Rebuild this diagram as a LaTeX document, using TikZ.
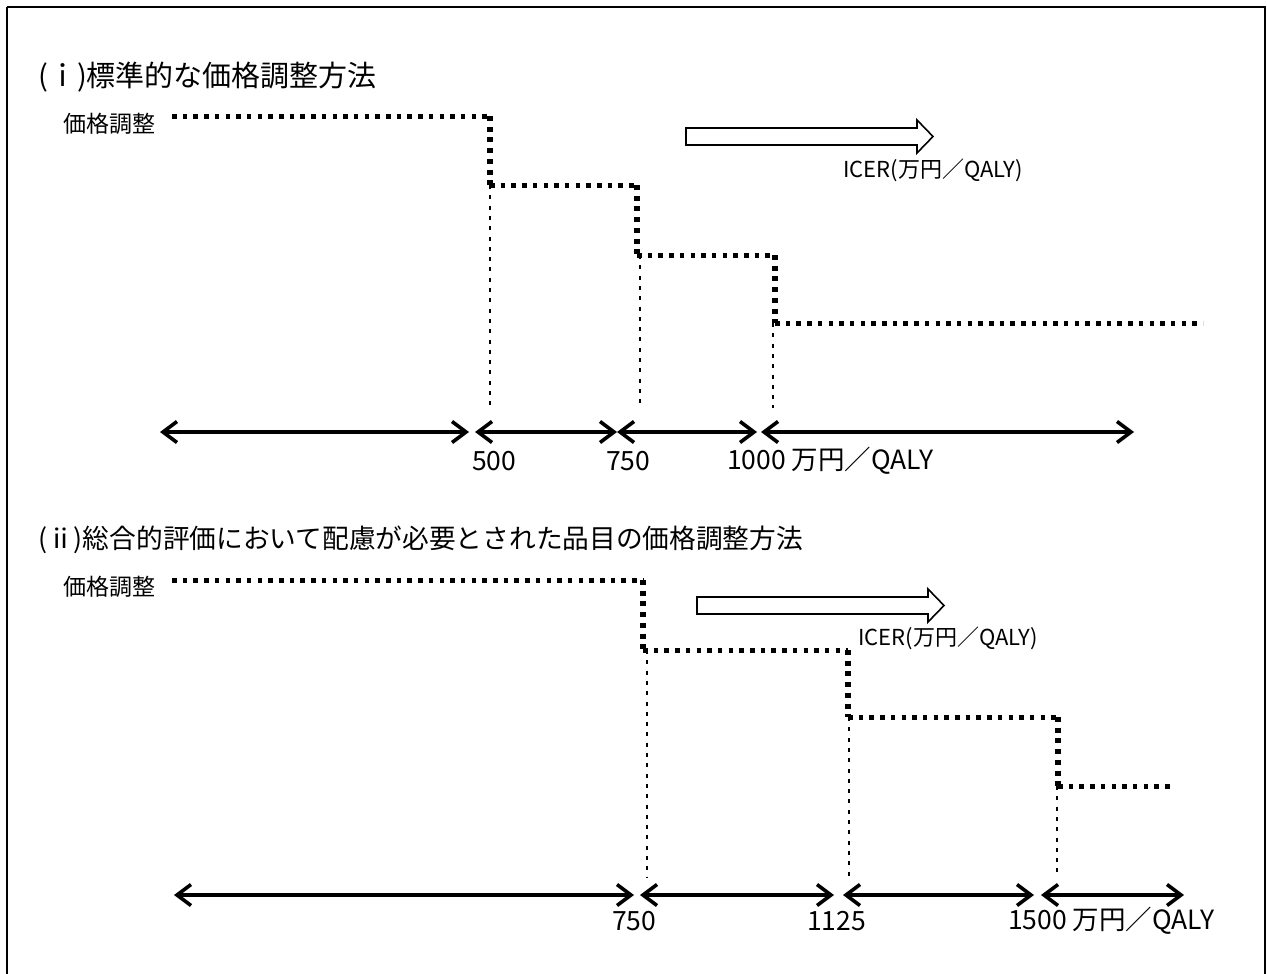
\documentclass[tikz,border=0pt]{standalone}
\usepackage{fontspec}
\setmainfont{Noto Sans CJK JP}
\usetikzlibrary{arrows.meta}
\begin{document}
\begin{tikzpicture}[x=1pt,y=-1pt,
  thickdot/.style={line width=5pt,dash pattern=on 4.5pt off 6.2pt},
  vdot/.style={line width=5.5pt,dash pattern=on 5pt off 5.7pt},
  thindash/.style={line width=2.5pt,dash pattern=on 4pt off 6.3pt},
  axisarrow/.style={line width=3.3pt,{Straight Barb[length=14pt,width=21pt,line width=3.6pt]}-{Straight Barb[length=14pt,width=21pt,line width=3.6pt]}},
  titleA/.style={anchor=west,inner sep=0pt,font=\fontsize{29}{32}\selectfont},
  titleB/.style={anchor=west,inner sep=0pt,font=\fontsize{26.7}{30}\selectfont},
  lbl/.style={anchor=west,inner sep=0pt,font=\fontsize{23}{26}\selectfont},
  num/.style={anchor=west,inner sep=0pt,font=\fontsize{26.5}{30}\selectfont},
  icer/.style={anchor=west,inner sep=0pt,font=\fontsize{22}{25}\selectfont},
  blockarrow/.style={draw,line width=1.6pt,fill=white}
]
\useasboundingbox (0,0) rectangle (1267,974);
\draw[line width=2.2pt] (7,7) -- (1265,7) -- (1265,990) (7,990) -- (7,7);

% ---------- part (i) ----------
\node[titleA] (t1) at (38,77) {(ｉ)標準的な価格調整方法};
\node[lbl] (p1) at (63,124) {価格調整};

\coordinate (a0) at (172,116);
\coordinate (a1) at (490,116);
\coordinate (a2) at (490,185);
\coordinate (a3) at (637,185);
\coordinate (a4) at (637,255);
\coordinate (a5) at (775,255);
\coordinate (a6) at (775,323);
\coordinate (a7) at (1203,323);
\draw[thickdot] (a0) -- (a1);
\draw[vdot] (a1) -- (a2);
\draw[thickdot] (a2) -- (a3);
\draw[vdot] (a3) -- (a4);
\draw[thickdot] (a4) -- (a5);
\draw[vdot] (a5) -- (a6);
\draw[thickdot] (a6) -- (a7);

\coordinate (d1) at (490,408);
\coordinate (e1) at (640,408);
\coordinate (f1) at (773,408);
\coordinate (a4b) at (640,255);
\coordinate (a6b) at (773,323);
\draw[thindash] (a2) -- (d1);
\draw[thindash] (a4b) -- (e1);
\draw[thindash] (a6b) -- (f1);

\coordinate (x0) at (160,432);
\coordinate (x1) at (469,432);
\coordinate (x2) at (475,432);
\coordinate (x3) at (617,432);
\coordinate (x4) at (617,432);
\coordinate (x5) at (757,432);
\coordinate (x6) at (761,432);
\coordinate (x7) at (1134,432);
\draw[axisarrow] (x0) -- (x1);
\draw[axisarrow] (x2) -- (x3);
\draw[axisarrow] (x4) -- (x5);
\draw[axisarrow] (x6) -- (x7);

\node[num] (n500) at (472,461) {500};
\node[num] (n750) at (606,461) {750};
\node[num] (n1000) at (727,461) {1000 万円／QALY};

\draw[blockarrow] (686,128) -- (917,128) -- (917,120) -- (933,136.5) -- (917,153) -- (917,145) -- (686,145) -- cycle;
\node[icer] (ic1) at (843,170) {ICER(万円／QALY)};

% ---------- part (ii) ----------
\node[titleB] (t2) at (38,540) {(ⅱ)総合的評価において配慮が必要とされた品目の価格調整方法};
\node[lbl] (p2) at (63,587) {価格調整};

\coordinate (b0) at (172,580);
\coordinate (b1) at (643,580);
\coordinate (b2) at (643,650);
\coordinate (b3) at (848,650);
\coordinate (b4) at (848,717);
\coordinate (b5) at (1058,717);
\coordinate (b6) at (1058,786);
\coordinate (b7) at (1175,786);
\draw[thickdot] (b0) -- (b1);
\draw[vdot] (b1) -- (b2);
\draw[thickdot] (b2) -- (b3);
\draw[vdot] (b3) -- (b4);
\draw[thickdot] (b4) -- (b5);
\draw[vdot] (b5) -- (b6);
\draw[thickdot] (b6) -- (b7);

\coordinate (g0) at (647,650);
\coordinate (g1) at (647,877);
\coordinate (h0) at (849,717);
\coordinate (h1) at (849,877);
\coordinate (k0) at (1057,786);
\coordinate (k1) at (1057,877);
\draw[thindash] (g0) -- (g1);
\draw[thindash] (h0) -- (h1);
\draw[thindash] (k0) -- (k1);

\coordinate (y0) at (174,895);
\coordinate (y1) at (634,895);
\coordinate (y2) at (640,895);
\coordinate (y3) at (834,895);
\coordinate (y4) at (843,895);
\coordinate (y5) at (1034,895);
\coordinate (y6) at (1041,895);
\coordinate (y7) at (1184,895);
\draw[axisarrow] (y0) -- (y1);
\draw[axisarrow] (y2) -- (y3);
\draw[axisarrow] (y4) -- (y5);
\draw[axisarrow] (y6) -- (y7);

\node[num] (m750) at (612,921) {750};
\node[num] (m1125) at (807,921) {1125};
\node[num] (m1500) at (1008,921) {1500 万円／QALY};

\draw[blockarrow] (697,597) -- (928,597) -- (928,589) -- (944,605.5) -- (928,622) -- (928,614) -- (697,614) -- cycle;
\node[icer] (ic2) at (858,638) {ICER(万円／QALY)};
\end{tikzpicture}
\end{document}
